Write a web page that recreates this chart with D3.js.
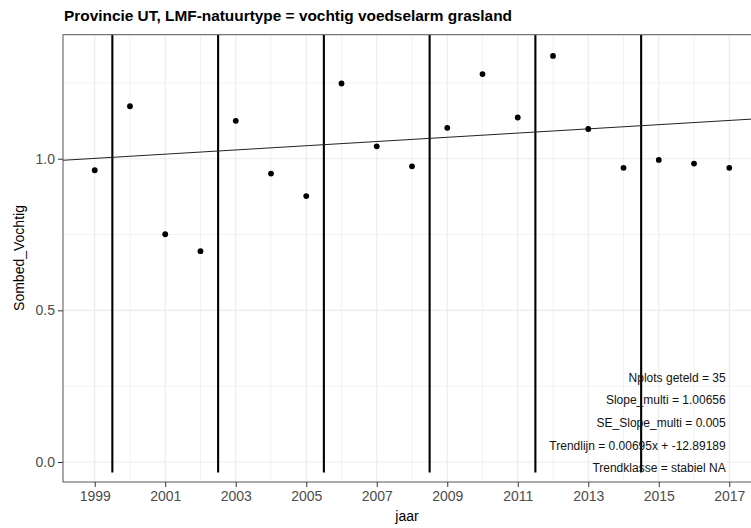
<!DOCTYPE html>
<html><head><meta charset="utf-8">
<script src="https://cdn.jsdelivr.net/npm/d3@7"></script>
<style>
body{margin:0;background:#fff;}
text{font-family:"Liberation Sans",Arial,sans-serif;}
</style></head>
<body><svg id="c" width="751" height="528"></svg>
<script>
const years = [1999,2000,2001,2002,2003,2004,2005,2006,2007,2008,2009,2010,2011,2012,2013,2014,2015,2016,2017];
const values = [0.962,1.173,0.751,0.695,1.125,0.951,0.877,1.248,1.041,0.975,1.102,1.279,1.136,1.339,1.098,0.970,0.996,0.984,0.970];
const breakYears = [1999.5,2002.5,2005.5,2008.5,2011.5,2014.5];
const xTicks = [1999,2001,2003,2005,2007,2009,2011,2013,2015,2017];
const xMinor = [2000,2002,2004,2006,2008,2010,2012,2014,2016];
const yTicks = [0,0.5,1.0];
const yMinor = [0.25,0.75,1.25];
const trendSlope = 0.00695, trendIntercept = -12.89189;
const titleText = "Provincie UT, LMF-natuurtype = vochtig voedselarm grasland";
const annotations = ["Nplots geteld = 35","Slope_multi = 1.00656","SE_Slope_multi = 0.005","Trendlijn = 0.00695x + -12.89189","Trendklasse = stabiel NA"];

const L=63, R=761, T=34.7, B=482;
const svg = d3.select("#c");
const x = d3.scaleLinear().domain([1998.1,2017.9]).range([L,R]);
const y = d3.scaleLinear().domain([-0.066,1.409]).range([B,T]);

svg.append("defs").append("clipPath").attr("id","clip").append("rect")
  .attr("x",L).attr("y",T).attr("width",R-L).attr("height",B-T);
const g = svg.append("g").attr("clip-path","url(#clip)");

// grid
g.selectAll(".xmin").data(xMinor).join("line").attr("x1",d=>x(d)).attr("x2",d=>x(d)).attr("y1",T).attr("y2",B).attr("stroke","#EBEBEB").attr("stroke-width",0.6);
g.selectAll(".ymin").data(yMinor).join("line").attr("y1",d=>y(d)).attr("y2",d=>y(d)).attr("x1",L).attr("x2",R).attr("stroke","#EBEBEB").attr("stroke-width",0.6);
g.selectAll(".xmaj").data(xTicks).join("line").attr("x1",d=>x(d)).attr("x2",d=>x(d)).attr("y1",T).attr("y2",B).attr("stroke","#EBEBEB").attr("stroke-width",1.1);
g.selectAll(".ymaj").data(yTicks).join("line").attr("y1",d=>y(d)).attr("y2",d=>y(d)).attr("x1",L).attr("x2",R).attr("stroke","#EBEBEB").attr("stroke-width",1.1);

// vertical break lines
g.selectAll(".vb").data(breakYears).join("line").attr("x1",d=>x(d)).attr("x2",d=>x(d))
  .attr("y1",y(-0.035)).attr("y2",T).attr("stroke","#000").attr("stroke-width",2.1);

// trend line
g.append("line").attr("x1",x(1998.1)).attr("x2",x(2017.9))
  .attr("y1",y(trendSlope*1998.1+trendIntercept)).attr("y2",y(trendSlope*2017.9+trendIntercept))
  .attr("stroke","#222").attr("stroke-width",1);

// points
g.selectAll(".pt").data(years).join("circle").attr("cx",d=>x(d)).attr("cy",(d,i)=>y(values[i])).attr("r",2.9).attr("fill","#000");

// annotations
g.selectAll(".ann").data(annotations).join("text").attr("x",725.7).attr("y",(d,i)=>381.6+i*22.7)
  .attr("text-anchor","end").attr("font-size",12).attr("fill","#111").text(d=>d);

// panel border
svg.append("rect").attr("x",L).attr("y",T).attr("width",R-L).attr("height",B-T).attr("fill","none").attr("stroke","#555").attr("stroke-width",1);

// axes
const xa = svg.append("g").attr("transform",`translate(0,${B})`)
  .call(d3.axisBottom(x).tickValues(xTicks).tickFormat(d3.format("d")).tickSize(5).tickPadding(4));
xa.select(".domain").remove();
xa.selectAll("line").attr("stroke","#333");
xa.selectAll("text").attr("font-size",14).attr("fill","#4D4D4D").attr("font-family","Liberation Sans, Arial, sans-serif");

const ya = svg.append("g").attr("transform",`translate(${L},0)`)
  .call(d3.axisLeft(y).tickValues(yTicks).tickFormat(d3.format(".1f")).tickSize(5).tickPadding(3));
ya.select(".domain").remove();
ya.selectAll("line").attr("stroke","#333");
ya.selectAll("text").attr("font-size",14).attr("fill","#4D4D4D").attr("font-family","Liberation Sans, Arial, sans-serif");

// titles
svg.append("text").attr("x",64).attr("y",21).attr("font-size",15).attr("font-weight","bold").attr("fill","#000")
  .attr("textLength",448).attr("lengthAdjust","spacingAndGlyphs").text(titleText);
svg.append("text").attr("x",407).attr("y",521).attr("text-anchor","middle").attr("font-size",14).attr("fill","#000").text("jaar");
svg.append("text").attr("transform","translate(24,258) rotate(-90)").attr("text-anchor","middle").attr("font-size",14).attr("fill","#000").text("Sombed_Vochtig");
</script></body></html>
